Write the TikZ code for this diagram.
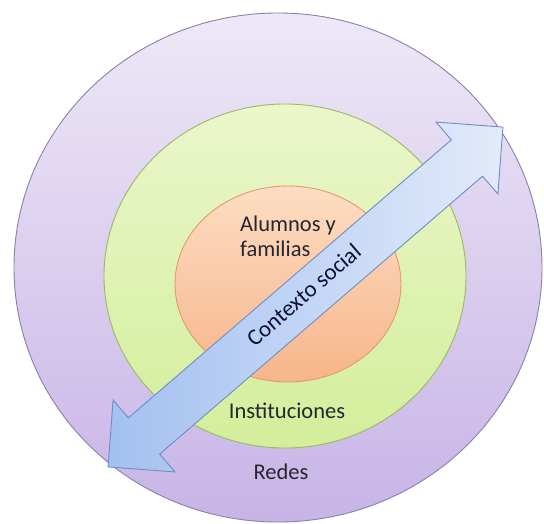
\documentclass[tikz,border=0pt]{standalone}
\usepackage{fontspec}
\setmainfont{Carlito}
\usetikzlibrary{shapes.geometric,shapes.arrows}
\definecolor{lilaTop}{HTML}{EEE8F7}
\definecolor{lilaBot}{HTML}{C7B4E6}
\definecolor{lilaLine}{HTML}{8A7FAE}
\definecolor{verdeTop}{HTML}{EBF6CB}
\definecolor{verdeBot}{HTML}{D3EE9B}
\definecolor{verdeLine}{HTML}{9DB865}
\definecolor{naranjaTop}{HTML}{FDDDC3}
\definecolor{naranjaBot}{HTML}{F7B58A}
\definecolor{naranjaLine}{HTML}{E29A6C}
\definecolor{azulLight}{HTML}{E2EBFA}
\definecolor{azulDark}{HTML}{A3C0F0}
\definecolor{azulLine}{HTML}{6F8DC4}
\definecolor{texto}{HTML}{26262F}
\tikzset{
ring/.style     = {shape=ellipse, inner sep=0pt, line width=0.9pt},
redesring/.style = {ring, draw=lilaLine, top color=lilaTop, bottom color=lilaBot},
instring/.style  = {ring, draw=verdeLine, top color=verdeTop, bottom color=verdeBot},
alumring/.style  = {ring, draw=naranjaLine, top color=naranjaTop, bottom color=naranjaBot},
etiqueta/.style  = {font=\fontsize{22.5}{25}\selectfont, text=texto, inner sep=0pt},
flecha/.style    = {double arrow, draw=azulLine, line width=0.9pt,
                    left color=azulDark, right color=azulLight,
                    double arrow head extend=23.5pt, minimum width=94pt,
                    text height=15pt, text depth=5pt, inner xsep=0pt, inner ysep=13.5pt,
                    font=\fontsize{23}{25}\selectfont, text=texto!70!blue!55!black}
}

\begin{document}
\begin{tikzpicture}[x=1pt, y=-1pt]
\useasboundingbox (0,0) rectangle (544,524);

\node[redesring, minimum width=528pt, minimum height=509pt] (redes) at (278,267.5) {};
\node[instring, minimum width=362pt, minimum height=344pt] (inst) at (285,276) {};
\node[alumring, minimum width=226pt, minimum height=196pt] (alumnos) at (288,284) {};

\node[etiqueta, align=left] (alumtxt) at (288,236) {Alumnos y\\familias};
\node[etiqueta] (insttxt) at (287,411) {Instituciones};
\node[etiqueta] (redestxt) at (281,472) {Redes};

\node[flecha, rotate=40.72, minimum height=521pt] (contexto) at (305.5,297) {Contexto social};
\end{tikzpicture}
\end{document}
